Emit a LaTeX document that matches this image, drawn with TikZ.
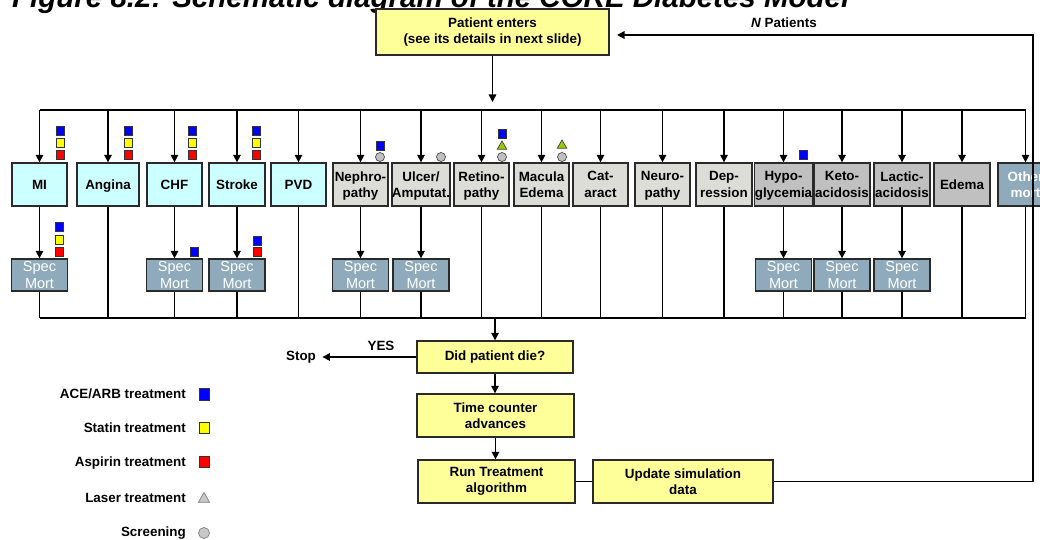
\documentclass[tikz,border=0pt]{standalone}
\usepackage{fontspec}
\setmainfont{Liberation Sans}
\usetikzlibrary{arrows.meta,shapes.geometric}
\definecolor{cyanbox}{HTML}{CCFFFF}
\definecolor{lgraybox}{HTML}{DDDDD8}
\definecolor{dgraybox}{HTML}{C0C0C0}
\definecolor{specbox}{HTML}{8EAABB}
\definecolor{yelbox}{HTML}{FFFF99}
\definecolor{edgecol}{HTML}{2A2A2A}
\definecolor{acecol}{HTML}{0000FF}
\definecolor{statcol}{HTML}{FFFF00}
\definecolor{aspcol}{HTML}{FF0000}
\definecolor{lasercol}{HTML}{99CC00}
\definecolor{screencol}{HTML}{C0C0C0}
\definecolor{leggray}{HTML}{C8C8C8}
\tikzset{
  lbl/.style={font=\fontsize{13.4}{16.5}\selectfont\bfseries},
  dbox/.style={draw=edgecol, line width=1.3pt, minimum height=43pt, minimum width=55pt, inner sep=0pt, align=center, text depth=0pt, lbl},
  cvd/.style={dbox, fill=cyanbox},
  mic/.style={dbox, fill=lgraybox},
  acu/.style={dbox, fill=dgraybox},
  othbox/.style={dbox, fill=specbox, text=white},
  spec/.style={draw=edgecol, line width=1.3pt, fill=specbox, minimum width=56pt, minimum height=32pt, inner sep=0pt, align=center, text=white, text depth=0pt, font=\fontsize{14.5}{17}\selectfont},
  flow/.style={draw=edgecol, line width=1.3pt, fill=yelbox, minimum height=43pt, inner sep=0pt, align=center, lbl},
  wire/.style={line width=1.5pt, draw=black},
  arr/.style={wire, -{Triangle[length=7.5pt,width=7.5pt]}},
  mk/.style={draw=black!80, line width=0.7pt, minimum width=8pt, minimum height=9pt, inner sep=0pt},
  ace/.style={mk, fill=acecol},
  stat/.style={mk, fill=statcol},
  asp/.style={mk, fill=aspcol},
  laser/.style={regular polygon, regular polygon sides=3, draw=black!75, line width=0.7pt, fill=lasercol, minimum size=11pt, inner sep=0pt},
  scr/.style={circle, draw=black!70, line width=0.7pt, fill=screencol, minimum size=9pt, inner sep=0pt},
  legtext/.style={lbl, anchor=east, inner sep=0pt}
}
\begin{document}
\begin{tikzpicture}[x=1pt,y=-1pt]
\useasboundingbox[fill=white] (0,0) rectangle (1040,540);

% title (cut off at the top)
\node[anchor=base west, inner sep=0pt, font=\fontsize{29.5}{30}\selectfont\bfseries\itshape] (title) at (12,8) {Figure 8.2: Schematic diagram of the CORE Diabetes Model};

% top entry box
\node[flow, minimum width=233pt, minimum height=46pt] (pe) at (492.5,32) {Patient enters\\(see its details in next slide)};
\node[lbl] (npat) at (784,23) {\itshape N\upshape\ Patients};

% disease boxes
\node[cvd] (mi) at (39.5,184.5) {MI};
\node[cvd, minimum width=62pt] (ang) at (108,184.5) {Angina};
\node[cvd] (chf) at (174.5,184.5) {CHF};
\node[cvd, minimum width=56pt] (str) at (237,184.5) {Stroke};
\node[cvd] (pvd) at (298.5,184.5) {PVD};
\node[mic] (nep) at (360.5,184.5) {Nephro-\\pathy};
\node[mic, minimum width=56pt] (ulc) at (421,184.5) {Ulcer/\\Amputat.};
\node[mic] (ret) at (481.5,184.5) {Retino-\\pathy};
\node[mic] (mac) at (541.5,184.5) {Macula\\Edema};
\node[mic] (cat) at (600.5,184.5) {Cat-\\aract};
\node[mic] (neu) at (662.5,184.5) {Neuro-\\pathy};
\node[mic, minimum width=56pt] (dep) at (724,184.5) {Dep-\\ression};
\node[acu] (hyp) at (783.5,184.5) {Hypo-\\glycemia};
\node[acu, minimum width=56pt] (ket) at (842,184.5) {Keto-\\acidosis};
\node[acu, minimum width=56pt] (lac) at (902,184.5) {Lactic-\\acidosis};
\node[acu, minimum width=56pt] (ede) at (962,184.5) {Edema};
\node[othbox] (oth) at (1025.5,184.5) {Other\\mort};

% specific mortality boxes
\node[spec] (mis) at (39.5,275) {Spec\\Mort};
\node[spec] (chfs) at (174.5,275) {Spec\\Mort};
\node[spec] (strs) at (237,275) {Spec\\Mort};
\node[spec] (neps) at (360.5,275) {Spec\\Mort};
\node[spec] (ulcs) at (421,275) {Spec\\Mort};
\node[spec] (hyps) at (783.5,275) {Spec\\Mort};
\node[spec] (kets) at (842,275) {Spec\\Mort};
\node[spec] (lacs) at (902,275) {Spec\\Mort};

% flow boxes
\node[flow, minimum width=156pt, minimum height=32pt] (did) at (495,357) {Did patient die?};
\node[flow, minimum width=157pt] (time) at (495.5,415.5) {Time counter\\advances};
\node[flow, minimum width=157pt] (run) at (496.5,481.5) {Run Treatment\\algorithm};
\node[flow, minimum width=180pt] (upd) at (683,481.5) {Update simulation\\data};

\node[lbl] (stop) at (301,357) {Stop};
\node[lbl] (yes) at (381,346) {YES};

% helper coordinates
\coordinate (busy) at (0,110);
\coordinate (boty) at (0,318);
\coordinate (petip) at (492.5,102);
\coordinate (loopTR) at (1033,35);
\coordinate (nin) at (617,35);

% entry arrow
\draw[arr] (pe.south) -- (petip);

% top bus and arrows into the disease boxes
\draw[wire] (mi.north |- busy) -- (oth.north |- busy);
\foreach \n in {mi,ang,chf,str,pvd,nep,ulc,ret,mac,cat,neu,dep,hyp,ket,lac,ede,oth}
  \draw[arr] (\n.north |- busy) -- (\n.north);

% boxes to specific mortality
\foreach \n/\s in {mi/mis,chf/chfs,str/strs,nep/neps,ulc/ulcs,hyp/hyps,ket/kets,lac/lacs}{
  \draw[arr] (\n.south) -- (\s.north);
  \draw[wire] (\s.south) -- (\s.south |- boty);
}
\foreach \n in {ang,pvd,ret,mac,cat,neu,dep,ede,oth}
  \draw[wire] (\n.south) -- (\n.south |- boty);

% bottom bus
\draw[wire] (mis.south |- boty) -- (oth.south |- boty);
\draw[arr] (did.north |- boty) -- (did.north);

% flow
\draw[arr] (did.south) -- (did.south |- time.north);
\draw[arr] (time.south) -- (time.south |- run.north);
\draw[wire] (run.east) -- (upd.west);
\draw[arr] (upd.east) -- (upd.east -| loopTR) -- (loopTR) -- (nin);
\draw[arr] (did.west) -- ([xshift=3pt]did.west -| stop.east);

% treatment markers
\foreach \x in {60,128,192,256}{
  \node[ace] at (\x,131) {};
  \node[stat] at (\x,143) {};
  \node[asp] at (\x,155) {};
}
\node[ace] at (59,227) {};
\node[stat] at (59,239.5) {};
\node[asp] at (59,252) {};
\node[ace] at (194,252) {};
\node[ace] at (257,241) {};
\node[asp] at (257,252) {};
\node[ace] at (380,146) {};
\node[scr] at (380,157) {};
\node[scr] at (441,157) {};
\node[ace] at (502,134) {};
\node[laser] at (502,146.5) {};
\node[scr] at (502,157) {};
\node[laser] at (562,145.5) {};
\node[scr] at (562,157) {};
\node[ace] at (803,155) {};

% legend
\node[legtext] (l1) at (186,394) {ACE/ARB treatment};
\node[legtext] (l2) at (186,428) {Statin treatment};
\node[legtext] (l3) at (186,463) {Aspirin treatment};
\node[legtext] (l4) at (186,498) {Laser treatment};
\node[legtext] (l5) at (186,533) {Screening};
\node[mk, fill=acecol, minimum width=10pt, minimum height=12pt] (s1) at (204,394) {};
\node[mk, fill=statcol, minimum width=10pt, minimum height=11pt] (s2) at (204,428) {};
\node[mk, fill=aspcol, minimum width=10pt, minimum height=11pt] (s3) at (204,462) {};
\node[regular polygon, regular polygon sides=3, draw=black!50, line width=0.7pt, fill=leggray, minimum size=13pt, inner sep=0pt] (s4) at (204,499) {};
\node[circle, draw=black!50, line width=0.7pt, fill=leggray, minimum size=11pt, inner sep=0pt] (s5) at (204,533) {};
\end{tikzpicture}
\end{document}
